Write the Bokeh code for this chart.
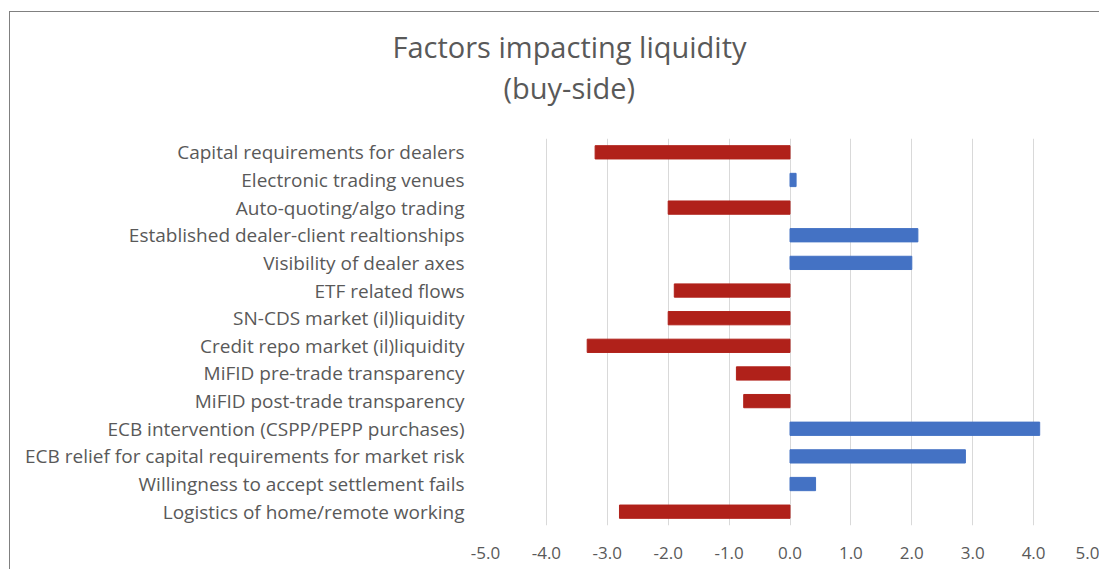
from bokeh.plotting import figure
from bokeh.models import ColumnDataSource, Title, FixedTicker
from bokeh.embed import file_html
from bokeh.resources import INLINE

categories = [
    "Capital requirements for dealers",
    "Electronic trading venues",
    "Auto-quoting/algo trading",
    "Established dealer-client realtionships",
    "Visibility of dealer axes",
    "ETF related flows",
    "SN-CDS market (il)liquidity",
    "Credit repo market (il)liquidity",
    "MiFID pre-trade transparency",
    "MiFID post-trade transparency",
    "ECB intervention (CSPP/PEPP purchases)",
    "ECB relief for capital requirements for market risk",
    "Willingness to accept settlement fails",
    "Logistics of home/remote working",
]
values = [-3.2, 0.1, -2.0, 2.1, 2.0, -1.9, -2.0, -3.33, -0.88, -0.76, 4.1, 2.88, 0.42, -2.8]
x_ticks = [-5, -4, -3, -2, -1, 0, 1, 2, 3, 4, 5]
title_lines = ["Factors impacting liquidity", "(buy-side)"]

RED = "#B0211A"
BLUE = "#4472C4"
TXT = "#595959"
FONT = "Open Sans"

colors = [BLUE if v >= 0 else RED for v in values]
src = ColumnDataSource(dict(cat=categories, val=values, color=colors))

W, H = 1090, 558
LEFT, TOP, BOTTOM = 475, 126, 45
p = figure(
    width=W, height=H,
    y_range=list(reversed(categories)),
    x_range=(-5, 5),
    output_backend="svg", toolbar_location=None,
    min_border_left=LEFT, min_border_right=W - LEFT - 609,
    min_border_top=TOP, min_border_bottom=BOTTOM,
)
p.styles = {"border-left": "1px solid #808080", "border-top": "1px solid #808080",
            "margin-left": "9px", "margin-top": "11px"}
p.outline_line_color = None
p.background_fill_color = "white"

p.hbar(y="cat", right="val", left=0, height=0.48, color="color", source=src)

p.xaxis.ticker = FixedTicker(ticks=x_ticks)
p.xaxis.major_label_overrides = {t: f"{t:.1f}" for t in x_ticks}
for ax in (p.xaxis, p.yaxis):
    ax.axis_line_color = None
    ax.major_tick_line_color = None
    ax.minor_tick_line_color = None
    ax.major_label_text_font = FONT
    ax.major_label_text_color = TXT
p.xaxis.major_label_text_font_size = "17px"
p.yaxis.major_label_text_font_size = "19px"
p.xaxis.major_label_standoff = 15
p.yaxis.major_label_standoff = 15

p.xgrid.grid_line_color = "#D9D9D9"
p.xgrid.grid_line_width = 1
p.ygrid.grid_line_color = None

# spacer closest to the frame, then the two title lines stacked upward
p.add_layout(Title(text=" ", text_font=FONT, text_font_size="22px", standoff=0), "above")
offsets = [-93, 18]
for line, off in reversed(list(zip(title_lines, offsets))):
    p.add_layout(Title(text=line, text_font=FONT, text_font_size="29px",
                       text_font_style="normal", text_color=TXT,
                       align="left", offset=off, standoff=0), "above")

open("out.html", "w").write(file_html(p, INLINE))
